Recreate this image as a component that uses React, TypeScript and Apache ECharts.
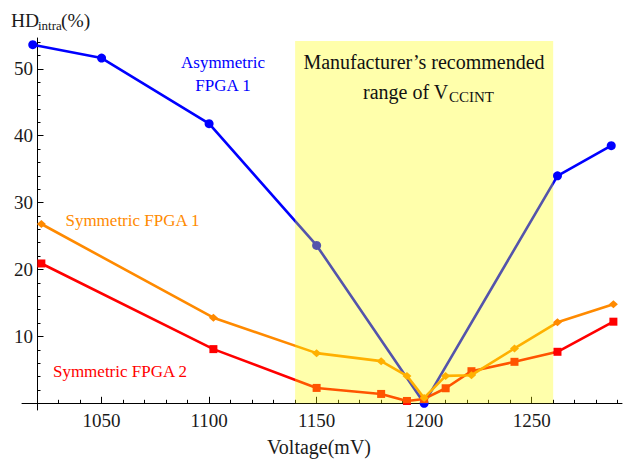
import React, { useEffect, useRef } from "react";
import * as echarts from "echarts";

// Data
const voltAsym1 = [1018, 1050, 1100, 1150, 1200, 1262, 1287];
const hdAsym1 = [53.6, 51.6, 41.8, 23.6, 0.0, 34.0, 38.5];

const voltSym = [1022, 1102, 1150, 1180, 1192, 1200, 1210, 1222, 1242, 1262, 1288];
const hdSym1 = [26.8, 12.8, 7.5, 6.3, 4.1, 0.8, 4.1, 4.2, 8.2, 12.1, 14.8];
const hdSym2 = [20.9, 8.1, 2.3, 1.4, 0.35, 0.65, 2.25, 4.8, 6.2, 7.7, 12.2];

const recommendedRange = [1140, 1260];
const recommendedTop = 54.15;

const xMajorTicks = [1050, 1100, 1150, 1200, 1250];
const xMinorTicks = [1030, 1040, 1060, 1070, 1080, 1090, 1110, 1120, 1130, 1140, 1160, 1170, 1180, 1190, 1210, 1220, 1230, 1240, 1260, 1270, 1280, 1290];
const yMajorTicks = [10, 20, 30, 40, 50];
const yMinorTicks = [2, 4, 6, 8, 12, 14, 16, 18, 22, 24, 26, 28, 32, 34, 36, 38, 42, 44, 46, 48, 52, 54];

const X_MIN = 1013;
const X_MAX = 1292;
const Y_MIN = -1;
const Y_MAX = 54.6;

const BLUE = "#0000ff";
const ORANGE = "#ff8a00";
const RED = "#ff0000";
const FONT = "Liberation Serif";

const zip = (xs: number[], ys: number[]) => xs.map((x, i) => [x, ys[i]]);

export default function App() {
  const ref = useRef<HTMLDivElement>(null);

  useEffect(() => {
    if (!ref.current) return;
    const chart = echarts.init(ref.current, undefined, { renderer: "svg" });

    const baseX = {
      type: "value" as const,
      min: X_MIN,
      max: X_MAX,
      position: "bottom" as const,
      offset: -6.69,
      splitLine: { show: false },
    };
    const baseY = {
      type: "value" as const,
      min: Y_MIN,
      max: Y_MAX,
      position: "left" as const,
      offset: -15,
      splitLine: { show: false },
    };

    chart.setOption({
      animation: false,
      backgroundColor: "#ffffff",
      grid: { left: 22, right: 2, top: 38, bottom: 49, containLabel: false },
      xAxis: [
        {
          ...baseX,
          axisLine: { show: true, onZero: false, lineStyle: { color: "#000", width: 1 } },
          axisTick: { show: true, inside: true, length: 6.5, customValues: xMajorTicks, lineStyle: { color: "#000" } },
          axisLabel: {
            show: true,
            customValues: xMajorTicks,
            margin: 8,
            color: "#1a1a1a",
            fontFamily: FONT,
            fontSize: 19,
            formatter: (v: number) => String(v),
          },
        },
        {
          ...baseX,
          axisLine: { show: false, onZero: false },
          axisTick: { show: true, inside: true, length: 3.5, customValues: xMinorTicks, lineStyle: { color: "#000" } },
          axisLabel: { show: false },
        },
      ],
      yAxis: [
        {
          ...baseY,
          axisLine: { show: true, onZero: false, lineStyle: { color: "#000", width: 1 } },
          axisTick: { show: true, inside: true, length: 6.5, customValues: yMajorTicks, lineStyle: { color: "#000" } },
          axisLabel: {
            show: true,
            customValues: yMajorTicks,
            margin: 4,
            color: "#1a1a1a",
            fontFamily: FONT,
            fontSize: 19,
            formatter: (v: number) => String(v),
          },
        },
        {
          ...baseY,
          axisLine: { show: false, onZero: false },
          axisTick: { show: true, inside: true, length: 3.5, customValues: yMinorTicks, lineStyle: { color: "#000" } },
          axisLabel: { show: false },
        },
      ],
      series: [
        {
          name: "Asymmetric FPGA 1",
          type: "line",
          xAxisIndex: 0,
          yAxisIndex: 0,
          data: zip(voltAsym1, hdAsym1),
          symbol: "circle",
          symbolSize: 9,
          clip: false,
          lineStyle: { color: BLUE, width: 2.6 },
          itemStyle: { color: BLUE },
          z: 2,
        },
        {
          name: "Symmetric FPGA 2",
          type: "line",
          xAxisIndex: 0,
          yAxisIndex: 0,
          data: zip(voltSym, hdSym2),
          symbol: "rect",
          symbolSize: 8,
          clip: false,
          lineStyle: { color: RED, width: 2.6 },
          itemStyle: { color: RED },
          z: 3,
        },
        {
          name: "Symmetric FPGA 1",
          type: "line",
          xAxisIndex: 0,
          yAxisIndex: 0,
          data: zip(voltSym, hdSym1),
          symbol: "diamond",
          symbolSize: [9, 8],
          clip: false,
          lineStyle: { color: ORANGE, width: 2.6 },
          itemStyle: { color: ORANGE },
          z: 4,
        },
        {
          name: "range",
          type: "line",
          xAxisIndex: 0,
          yAxisIndex: 0,
          data: [],
          z: 10,
          markArea: {
            silent: true,
            z: 10,
            itemStyle: { color: "rgba(255,255,0,0.33)" },
            data: [[{ xAxis: recommendedRange[0], yAxis: 0 }, { xAxis: recommendedRange[1], yAxis: recommendedTop }]],
          },
        },
      ],
      graphic: [
        { type: "text", x: 11, y: 20, z: 20, style: { text: "HD", font: `19.5px "${FONT}"`, fill: "#1a1a1a", align: "left", verticalAlign: "middle" } },
        { type: "text", x: 38, y: 25, z: 20, style: { text: "intra", font: `13px "${FONT}"`, fill: "#1a1a1a", align: "left", verticalAlign: "middle" } },
        { type: "text", x: 61, y: 20.5, z: 20, style: { text: "(%)", font: `19.5px "${FONT}"`, fill: "#1a1a1a", align: "left", verticalAlign: "middle" } },
        { type: "text", x: 319, y: 447, z: 20, style: { text: "Voltage(mV)", font: `20px "${FONT}"`, fill: "#1a1a1a", align: "center", verticalAlign: "middle" } },
        { type: "text", x: 223, y: 62, z: 20, style: { text: "Asymmetric", font: `17px "${FONT}"`, fill: BLUE, align: "center", verticalAlign: "middle" } },
        { type: "text", x: 223, y: 85, z: 20, style: { text: "FPGA 1", font: `17px "${FONT}"`, fill: BLUE, align: "center", verticalAlign: "middle" } },
        { type: "text", x: 132.5, y: 220, z: 20, style: { text: "Symmetric FPGA 1", font: `17px "${FONT}"`, fill: ORANGE, align: "center", verticalAlign: "middle" } },
        { type: "text", x: 120, y: 371, z: 20, style: { text: "Symmetric FPGA 2", font: `17px "${FONT}"`, fill: RED, align: "center", verticalAlign: "middle" } },
        { type: "text", x: 424, y: 61.5, z: 20, style: { text: "Manufacturer’s recommended", font: `20px "${FONT}"`, fill: "#111", align: "center", verticalAlign: "middle" } },
        { type: "text", x: 363, y: 92, z: 20, style: { text: "range of V", font: `20px "${FONT}"`, fill: "#111", align: "left", verticalAlign: "middle" } },
        { type: "text", x: 449, y: 97, z: 20, style: { text: "CCINT", font: `15px "${FONT}"`, fill: "#111", align: "left", verticalAlign: "middle" } },
      ],
    });

    return () => chart.dispose();
  }, []);

  return (
    <div
      ref={ref}
      style={{ position: "fixed", left: 0, top: 0, width: 624, height: 459, background: "#fff" }}
    />
  );
}
